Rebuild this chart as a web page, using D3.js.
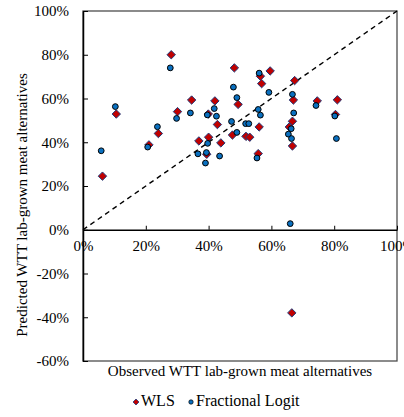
<!DOCTYPE html>
<html>
<head>
<meta charset="utf-8">
<script src="https://cdn.jsdelivr.net/npm/d3@7"></script>
<style>
  html, body { margin: 0; padding: 0; background: #fff; }
  svg { display: block; }
  svg text { font-family: "Liberation Serif", "Times New Roman", serif; fill: #000; }
</style>
</head>
<body>
<svg id="chart" width="404" height="417"></svg>
<script>
// Observed vs predicted willingness-to-try (shares), per model
const wlsObserved = [0.062, 0.106, 0.210, 0.240, 0.281, 0.301, 0.346, 0.369, 0.394, 0.400, 0.399,
  0.420, 0.428, 0.439, 0.476, 0.482, 0.494, 0.519, 0.531, 0.561, 0.558, 0.565, 0.569, 0.596,
  0.657, 0.667, 0.667, 0.670, 0.674, 0.665, 0.746, 0.810, 0.804];
const wlsPredicted = [0.245, 0.529, 0.388, 0.440, 0.800, 0.540, 0.593, 0.406, 0.345, 0.423, 0.529,
  0.589, 0.481, 0.397, 0.433, 0.740, 0.573, 0.427, 0.423, 0.470, 0.348, 0.702, 0.668, 0.726,
  0.470, 0.496, 0.383, 0.593, 0.682, -0.380, 0.589, 0.594, 0.527];

const flObserved = [0.058, 0.103, 0.206, 0.237, 0.278, 0.298, 0.342, 0.366, 0.393, 0.390, 0.397,
  0.396, 0.418, 0.425, 0.435, 0.473, 0.479, 0.490, 0.490, 0.518, 0.528, 0.554, 0.558, 0.561,
  0.565, 0.592, 0.654, 0.663, 0.664, 0.667, 0.671, 0.660, 0.742, 0.802, 0.807];
const flPredicted = [0.361, 0.563, 0.378, 0.471, 0.740, 0.509, 0.534, 0.347, 0.353, 0.305, 0.395,
  0.525, 0.554, 0.519, 0.337, 0.495, 0.652, 0.604, 0.445, 0.485, 0.485, 0.328, 0.550, 0.716,
  0.524, 0.628, 0.437, 0.462, 0.417, 0.619, 0.534, 0.028, 0.568, 0.520, 0.417];

const xTicks = [0, 0.2, 0.4, 0.6, 0.8, 1.0];
const yTicks = [-0.6, -0.4, -0.2, 0, 0.2, 0.4, 0.6, 0.8, 1.0];
const seriesNames = ["WLS", "Fractional Logit"];
const xTitle = "Observed WTT lab-grown meat alternatives";
const yTitle = "Predicted WTT lab-grown meat alternatives";

const svg = d3.select("#chart");
const plot = { left: 83, right: 397, top: 11, bottom: 361 };

const x = d3.scaleLinear().domain([0, 1]).range([plot.left, plot.right]);
const y = d3.scaleLinear().domain([-0.6, 1]).range([plot.bottom, plot.top]);
// percent labels with a plain hyphen for negatives
const pct = v => d3.format(".0%")(v).replace("\u2212", "-");
const serif = '"Liberation Serif", "Times New Roman", serif';

// plot frame
svg.append("rect")
  .attr("x", plot.left).attr("y", plot.top)
  .attr("width", plot.right - plot.left).attr("height", plot.bottom - plot.top)
  .attr("fill", "none").attr("stroke", "#4d4d4d").attr("stroke-width", 1.3);

// y axis (ticks point inward)
const yAxis = svg.append("g")
  .attr("transform", `translate(${plot.left},0)`)
  .call(d3.axisLeft(y).tickValues(yTicks).tickFormat(pct)
    .tickSizeInner(-5).tickSizeOuter(0).tickPadding(14));
yAxis.attr("font-family", null).attr("font-size", null);
yAxis.select(".domain").attr("stroke", "#000").attr("stroke-width", 1.5);
yAxis.selectAll(".tick line").attr("stroke", "#000");
yAxis.selectAll("text").style("font-size", "15px").style("font-family", serif);

// x axis along the zero line (ticks point upward)
const xAxis = svg.append("g")
  .attr("transform", `translate(0,${y(0)})`)
  .call(d3.axisBottom(x).tickValues(xTicks).tickFormat(pct)
    .tickSizeInner(-4).tickSizeOuter(0).tickPadding(11));
xAxis.attr("font-family", null).attr("font-size", null);
xAxis.select(".domain").attr("stroke", "#000").attr("stroke-width", 1.5);
xAxis.selectAll(".tick line").attr("stroke", "#000");
xAxis.selectAll("text").style("font-size", "15px").style("font-family", serif);

// 45-degree reference line
svg.append("line")
  .attr("x1", x(0)).attr("y1", y(0))
  .attr("x2", x(1)).attr("y2", y(1))
  .attr("stroke", "#000").attr("stroke-width", 1.4)
  .attr("stroke-dasharray", "5,4");

const diamond = r => `M0,${-r}L${r},0L0,${r}L${-r},0Z`;

// WLS markers
svg.append("g").selectAll("path")
  .data(d3.zip(wlsObserved, wlsPredicted))
  .join("path")
  .attr("transform", d => `translate(${x(d[0])},${y(d[1])})`)
  .attr("d", diamond(4.2))
  .attr("fill", "#c00000").attr("stroke", "#1f3a7a").attr("stroke-width", 1);

// Fractional Logit markers
svg.append("g").selectAll("circle")
  .data(d3.zip(flObserved, flPredicted))
  .join("circle")
  .attr("cx", d => x(d[0])).attr("cy", d => y(d[1]))
  .attr("r", 2.9)
  .attr("fill", "#0a70c0").attr("stroke", "#000").attr("stroke-width", 1);

// axis titles
svg.append("text")
  .attr("x", (plot.left + plot.right) / 2).attr("y", 376)
  .attr("text-anchor", "middle").style("font-size", "15px").text(xTitle);

svg.append("text")
  .attr("transform", `translate(27,205) rotate(-90)`)
  .attr("text-anchor", "middle").style("font-size", "15px").text(yTitle);

// legend
const legend = svg.append("g");
legend.append("path")
  .attr("transform", "translate(136,402)")
  .attr("d", diamond(3))
  .attr("fill", "#c00000").attr("stroke", "#1f3a7a").attr("stroke-width", 0.8);
legend.append("text").attr("x", 141).attr("y", 406).style("font-size", "16px").text(seriesNames[0]);
legend.append("circle")
  .attr("cx", 191).attr("cy", 402).attr("r", 2.2)
  .attr("fill", "#0a70c0").attr("stroke", "#000").attr("stroke-width", 0.7);
legend.append("text").attr("x", 196).attr("y", 406).style("font-size", "16px").text(seriesNames[1]);
</script>
</body>
</html>
